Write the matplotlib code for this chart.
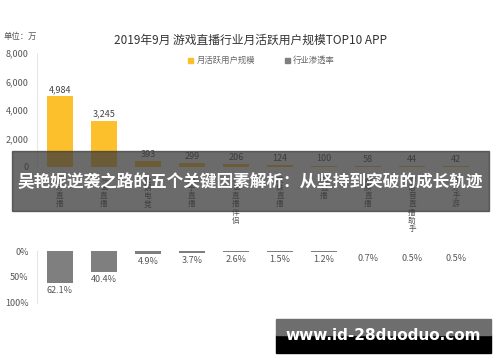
import re
import matplotlib
matplotlib.use("Agg")
import matplotlib.pyplot as plt
from matplotlib.patches import Rectangle

plt.rcParams['font.family'] = ['Noto Sans CJK SC', 'DejaVu Sans']

# data
apps = ['虎牙直播', '斗鱼直播', '企鹅电竞', '触手直播', '斗鱼直播伴侣',
        '龙珠直播', 'CC直播', '战旗直播', 'YY语音直播助手', '虎牙手游']
mau = [4984, 3245, 393, 299, 206, 124, 100, 58, 44, 42]
penetration = [62.1, 40.4, 4.9, 3.7, 2.6, 1.5, 1.2, 0.7, 0.5, 0.5]
mau_ticks = [0, 2000, 4000, 6000, 8000]
pen_ticks = [0, 50, 100]

W, H = 500, 362
YELLOW = '#fcc02c'
GRAY = '#7f7f7f'
TXT = '#555555'


def px_axes(fig, x0, y0, x1, y1):
    """Add axes from pixel box (top-left origin)."""
    return fig.add_axes([x0 / W, 1 - y1 / H, (x1 - x0) / W, (y1 - y0) / H])


def vertical(name):
    # one CJK char per line, latin runs kept together
    return '\n'.join(re.findall(r'[A-Za-z0-9]+|.', name))


fig = plt.figure(figsize=(W / 100, H / 100), dpi=100)
fig.patch.set_facecolor('white')

x = list(range(len(apps)))

# --- top: monthly active users ---
ax = px_axes(fig, 37, 53, 478, 167)
ax.bar(x, mau, width=0.6, color=YELLOW)
for xi, v in zip(x, mau):
    ax.text(xi, v + 150, f'{v:,}', ha='center', va='bottom', fontsize=6.5, color='#444')
ax.set_xlim(-0.52, 9.5)
ax.set_ylim(0, 8000)
ax.set_yticks(mau_ticks)
ax.set_yticklabels([f'{t:,}' for t in mau_ticks], fontsize=6.5, color=TXT)
ax.set_xticks([])
ax.tick_params(axis='y', length=0, pad=6)
for s in ['top', 'right', 'bottom']:
    ax.spines[s].set_visible(False)
ax.spines['left'].set_color('#e6e6e6')
for xi, name in zip(x, apps):
    ax.text(xi, -0.075, vertical(name), transform=ax.get_xaxis_transform(),
            ha='center', va='top', fontsize=5.5, color='#555', linespacing=1.05)

# --- bottom: penetration rate ---
ax2 = px_axes(fig, 37, 251, 478, 303)
ax2.bar(x, penetration, width=0.6, color=GRAY)
for xi, v in zip(x, penetration):
    ax2.text(xi, v + 6, f'{v}%', ha='center', va='top', fontsize=6.5, color='#555')
ax2.set_xlim(-0.52, 9.5)
ax2.set_ylim(100, 0)
ax2.set_yticks(pen_ticks)
ax2.set_yticklabels([f'{t}%' for t in pen_ticks], fontsize=6.5, color=TXT)
ax2.set_xticks([])
ax2.tick_params(axis='y', length=0, pad=6)
for s in ['top', 'right', 'bottom']:
    ax2.spines[s].set_visible(False)
ax2.spines['left'].set_color('#e6e6e6')

# --- titles and legend ---
fig.text(250 / W, 1 - 40 / H, '2019年9月 游戏直播行业月活跃用户规模TOP10 APP',
         ha='center', va='center', fontsize=8.5, color='#333')
fig.text(4 / W, 1 - 36 / H, '单位：万', ha='left', va='center', fontsize=6, color='#555')
fig.patches.append(Rectangle((188 / W, 1 - 63 / H), 5 / W, 5 / H,
                             transform=fig.transFigure, color=YELLOW))
fig.text(197 / W, 1 - 60.5 / H, '月活跃用户规模', ha='left', va='center', fontsize=6, color='#666')
fig.patches.append(Rectangle((285 / W, 1 - 63 / H), 5 / W, 5 / H,
                             transform=fig.transFigure, color=GRAY))
fig.text(293 / W, 1 - 60.5 / H, '行业渗透率', ha='left', va='center', fontsize=6, color='#666')

# --- overlay banner ---
fig.patches.append(Rectangle((12 / W, 1 - 211 / H), 477 / W, 60 / H,
                             transform=fig.transFigure, color='#3a3a3a', alpha=0.75, zorder=10))
fig.text(250 / W, 1 - 182 / H, '吴艳妮逆袭之路的五个关键因素解析：从坚持到突破的成长轨迹',
         ha='center', va='center', fontsize=12, fontweight='bold', color='white', zorder=11)

# --- watermark ---
fig.patches.append(Rectangle((276 / W, 1 - 353 / H), 215 / W, 18 / H,
                             transform=fig.transFigure, color='black', zorder=10))
fig.patches.append(Rectangle((276 / W, 1 - 335 / H), 215 / W, 16 / H,
                             transform=fig.transFigure, color='#6e6e6e', zorder=10))
fig.text(383 / W, 1 - 336 / H, 'www.id-28duoduo.com', ha='center', va='center',
         fontsize=11, fontweight='bold', color='white', family='DejaVu Sans', zorder=11)

fig.savefig('out.png', dpi=100)
